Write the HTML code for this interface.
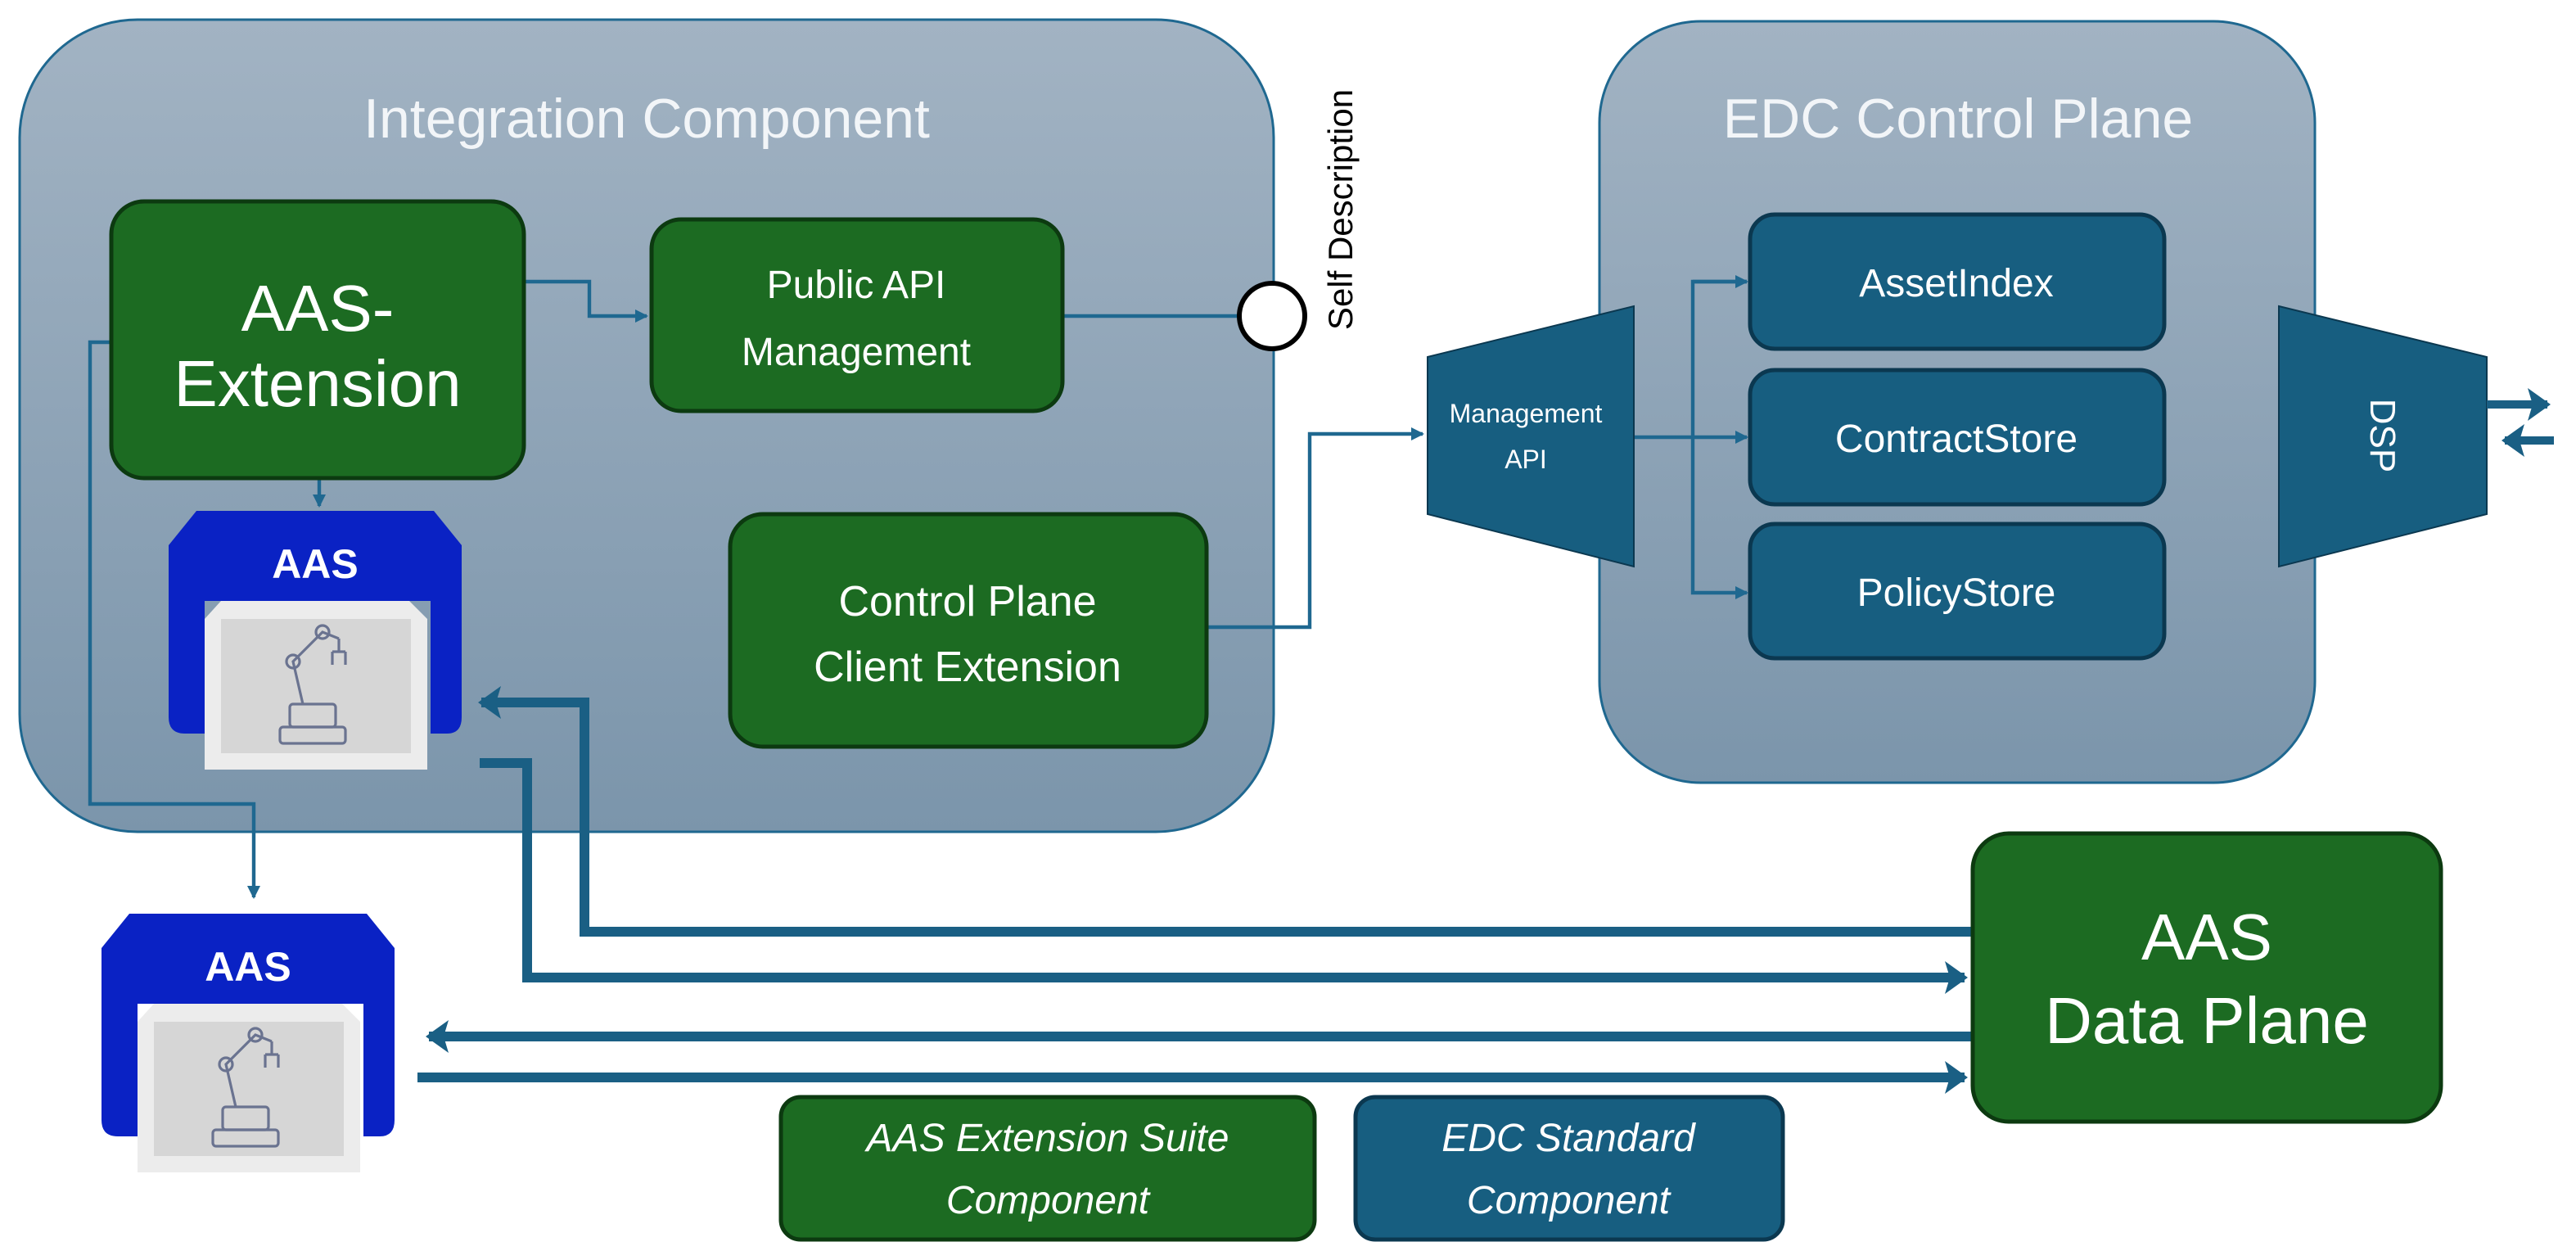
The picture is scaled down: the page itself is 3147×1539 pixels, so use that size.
<!DOCTYPE html>
<html><head><meta charset="utf-8"><style>
html,body{margin:0;padding:0;background:#fff;}
svg{display:block;}
text{font-family:"Liberation Sans",sans-serif;}
</style></head><body>
<svg width="3147" height="1539" viewBox="0 0 1573.5 769.5" xmlns="http://www.w3.org/2000/svg">
<defs>
<linearGradient id="cg" x1="0" y1="0" x2="0" y2="1"><stop offset="0" stop-color="#a2b3c3"/><stop offset="1" stop-color="#7b95ab"/></linearGradient>
<marker id="a" markerWidth="8" markerHeight="8" refX="7" refY="4" orient="auto" markerUnits="userSpaceOnUse"><path d="M0,0 L8,4 L0,8 Z" fill="#1f6890"/></marker>
<marker id="A" markerWidth="14" markerHeight="20" refX="12" refY="10" orient="auto" markerUnits="userSpaceOnUse"><path d="M0,0 L14,10 L0,20 L3,10 Z" fill="#1a5f84"/></marker>
<g id="aas">
<path d="M17,0 L162,0 L179,21 L179,126 Q179,136 170,136 L160,136 L160,55 L22,55 L22,136 L10,136 Q0,136 0,126 L0,21 Z" fill="#0a22c4"/>
<text x="89.5" y="41" font-size="25" font-weight="bold" fill="#fff" text-anchor="middle">AAS</text>
<path d="M32,55 L147,55 L158,66 L158,158 L22,158 L22,66 Z" fill="#ececec"/>
<rect x="32" y="66" width="116" height="82" fill="#d6d6d6"/>
<g fill="none" stroke="#6a7390" stroke-width="1.6">
<rect x="68" y="132" width="40" height="10" rx="2"/><rect x="74" y="118" width="28" height="14" rx="2"/>
<path d="M82,118 L76,92 L94,74 L104,78"/><circle cx="76" cy="92" r="4"/><circle cx="94" cy="74" r="4"/>
<path d="M104,78 L104,86 M100,86 L100,94 M108,86 L108,94 M100,86 L108,86"/>
</g>
</g>
</defs>

<!-- Integration Component -->
<rect x="12" y="12" width="766" height="496" rx="72" fill="url(#cg)" stroke="#1f6890" stroke-width="1.5"/>
<text x="395" y="84" font-size="34" fill="#f2f5f8" text-anchor="middle">Integration Component</text>

<!-- EDC container -->
<rect x="977" y="13" width="437" height="465" rx="62" fill="url(#cg)" stroke="#1f6890" stroke-width="1.5"/>
<text x="1196" y="84" font-size="34" fill="#f2f5f8" text-anchor="middle">EDC Control Plane</text>

<!-- connectors thin -->
<g fill="none" stroke="#1f6890" stroke-width="2.2">
<path d="M320,172 H360 V193 H395" marker-end="url(#a)"/>
<path d="M650,193 H757"/>
<path d="M195,292 V309" marker-end="url(#a)"/>
<path d="M68,209 H55 V491 H155 V548" marker-end="url(#a)"/>
<path d="M737,383 H800 V265 H869" marker-end="url(#a)"/>
<path d="M998,267 H1067" marker-end="url(#a)"/>
<path d="M1067,172 H1034 V362 H1067" marker-end="url(#a)"/>
<path d="M1034,172 H1067" marker-end="url(#a)"/>
</g>

<!-- AAS-Extension -->
<rect x="68" y="123" width="252" height="169" rx="20" fill="#1c6b22" stroke="#0c3a10" stroke-width="2.5"/>
<text x="194" y="202" font-size="40" fill="#fff" text-anchor="middle">AAS-</text>
<text x="194" y="248" font-size="40" fill="#fff" text-anchor="middle">Extension</text>

<rect x="398" y="134" width="251" height="117" rx="18" fill="#1c6b22" stroke="#0c3a10" stroke-width="2.5"/>
<text x="523" y="182" font-size="24" fill="#fff" text-anchor="middle">Public API</text>
<text x="523" y="223" font-size="24" fill="#fff" text-anchor="middle">Management</text>

<rect x="446" y="314" width="291" height="142" rx="20" fill="#1c6b22" stroke="#0c3a10" stroke-width="2.5"/>
<text x="591" y="376" font-size="26" fill="#fff" text-anchor="middle">Control Plane</text>
<text x="591" y="416" font-size="26" fill="#fff" text-anchor="middle">Client Extension</text>

<circle cx="777" cy="193" r="20" fill="#fff" stroke="#000" stroke-width="3"/>
<text transform="translate(826,128) rotate(-90)" font-size="21" fill="#000" text-anchor="middle">Self Description</text>

<!-- AAS icons -->
<use href="#aas" x="103" y="312"/>
<use href="#aas" x="62" y="558"/>

<!-- thick arrows -->
<g fill="none" stroke="#1a5f84" stroke-width="6">
<path d="M1205,569 H357 V429 H294" marker-end="url(#A)"/>
<path d="M293,466 H322 V597 H1200" marker-end="url(#A)"/>
<path d="M1205,633 H262" marker-end="url(#A)"/>
<path d="M255,658 H1200" marker-end="url(#A)"/>
</g>

<!-- EDC boxes -->
<g fill="#175e80" stroke="#0b3850" stroke-width="2.5">
<rect x="1069" y="131" width="253" height="82" rx="15"/>
<rect x="1069" y="226" width="253" height="82" rx="15"/>
<rect x="1069" y="320" width="253" height="82" rx="15"/>
</g>
<text x="1195" y="181" font-size="24" fill="#fff" text-anchor="middle">AssetIndex</text>
<text x="1195" y="276" font-size="24" fill="#fff" text-anchor="middle">ContractStore</text>
<text x="1195" y="370" font-size="24" fill="#fff" text-anchor="middle">PolicyStore</text>

<polygon points="872,218 998,187 998,346 872,314" fill="#175e80" stroke="#0b3850" stroke-width="1"/>
<text x="932" y="258" font-size="16" fill="#fff" text-anchor="middle">Management</text>
<text x="932" y="286" font-size="16" fill="#fff" text-anchor="middle">API</text>

<polygon points="1392,187 1519,218 1519,314 1392,346" fill="#175e80" stroke="#0b3850" stroke-width="1"/>
<text transform="translate(1448,266) rotate(90)" font-size="22" fill="#fff" text-anchor="middle">DSP</text>
<g fill="none" stroke="#1a5f84" stroke-width="5">
<path d="M1519,247 H1556" marker-end="url(#A)"/>
<path d="M1560,269 H1530" marker-end="url(#A)"/>
</g>

<!-- Data plane -->
<rect x="1205" y="509" width="286" height="176" rx="22" fill="#1c6b22" stroke="#0c3a10" stroke-width="2.5"/>
<text x="1348" y="586" font-size="40" fill="#fff" text-anchor="middle">AAS</text>
<text x="1348" y="637" font-size="40" fill="#fff" text-anchor="middle">Data Plane</text>

<!-- Legend -->
<rect x="477" y="670" width="326" height="87" rx="12" fill="#1c6b22" stroke="#0c3a10" stroke-width="2.5"/>
<text x="640" y="703" font-size="24" font-style="italic" fill="#fff" text-anchor="middle">AAS Extension Suite</text>
<text x="640" y="741" font-size="24" font-style="italic" fill="#fff" text-anchor="middle">Component</text>
<rect x="828" y="670" width="261" height="87" rx="12" fill="#175e80" stroke="#0b3850" stroke-width="2.5"/>
<text x="958" y="703" font-size="24" font-style="italic" fill="#fff" text-anchor="middle">EDC Standard</text>
<text x="958" y="741" font-size="24" font-style="italic" fill="#fff" text-anchor="middle">Component</text>
</svg>
</body></html>
